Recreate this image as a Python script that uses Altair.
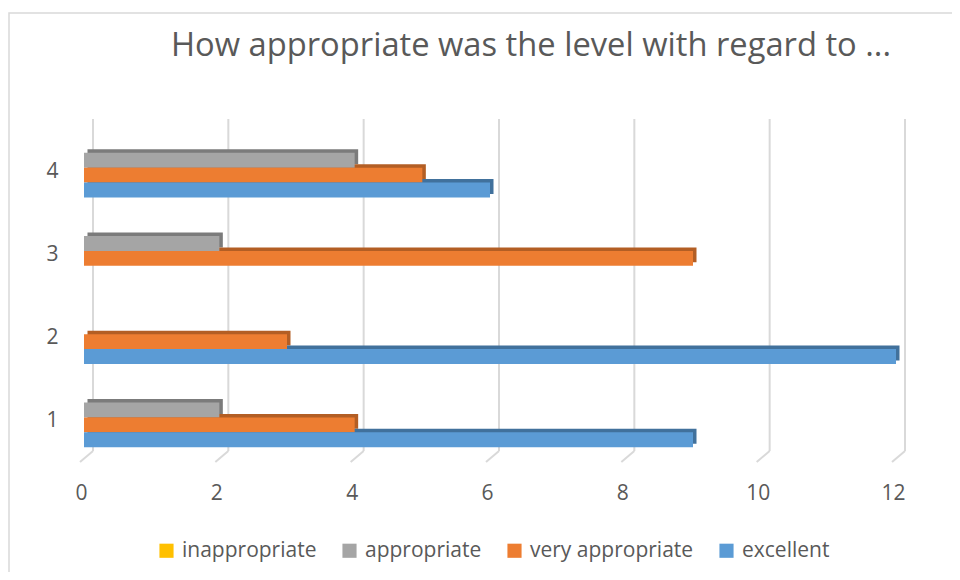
import altair as alt
import pandas as pd

categories = ["1", "2", "3", "4"]
series = ["inappropriate", "appropriate", "very appropriate", "excellent"]
inappropriate = [0, 0, 0, 0]
appropriate = [2, 0, 2, 4]
very_appropriate = [4, 3, 9, 5]
excellent = [9, 12, 0, 6]
x_ticks = [0, 2, 4, 6, 8, 10, 12]
title_text = "How appropriate was the level with regard to ..."

face_colors = ["#FFC000", "#A5A5A5", "#ED7D31", "#5B9BD5"]
side_colors = ["#BF9000", "#7B7B7B", "#B35E24", "#41719C"]
TEXT = "#595959"
FONT = "Open Sans"

rows = []
for s, vals in zip(series, [inappropriate, appropriate, very_appropriate, excellent]):
    for c, v in zip(categories, vals):
        rows.append({"category": c, "series": s, "value": v})
df = pd.DataFrame(rows)
grid_df = pd.DataFrame({"t": x_ticks})

W, H = 812, 333
BW = H / 4 * 0.72
D = 3.5

x_scale = alt.Scale(domain=[0, 12], nice=False, zero=True)
y_scale = alt.Scale(domain=categories[::-1], paddingInner=0.28, paddingOuter=0.14)

x_axis = alt.Axis(values=x_ticks, grid=False, domain=False, ticks=False,
                  labelFontSize=21, labelColor=TEXT, labelFont=FONT,
                  labelPadding=23, labelOffset=-3, labelFlush=False, title=None)
y_axis = alt.Axis(grid=False, domain=False, ticks=False, labelFontSize=21,
                  labelColor=TEXT, labelFont=FONT, labelPadding=26,
                  labelOffset=4, title=None)

border = alt.Chart(pd.DataFrame({"k": [0]})).mark_rect(
    filled=False, stroke="#d9d9d9", strokeWidth=1.5
).encode(
    x=alt.value(-75), x2=alt.value(950), y=alt.value(-113), y2=alt.value(700)
)

title = alt.Chart(pd.DataFrame({"label": [title_text]})).mark_text(
    fontSize=32.7, font=FONT, color=TEXT, align="center", baseline="middle"
).encode(
    text="label:N", x=alt.value(447), y=alt.value(-80)
)

grid_v = alt.Chart(grid_df).mark_rule(color="#d9d9d9", strokeWidth=2, xOffset=9).encode(
    x=alt.X("t:Q", scale=x_scale, axis=x_axis),
    y=alt.value(-7),
    y2=alt.value(325),
)
grid_s = alt.Chart(grid_df).mark_rule(
    color="#d9d9d9", strokeWidth=2, xOffset=9, x2Offset=-4
).encode(
    x=alt.X("t:Q", scale=x_scale, axis=x_axis),
    x2="t:Q",
    y=alt.value(325),
    y2=alt.value(336),
)

side = alt.Chart(df).mark_bar(xOffset=D, x2Offset=D).encode(
    x=alt.X("value:Q", scale=x_scale, axis=x_axis),
    y=alt.Y("category:N", scale=y_scale, axis=y_axis),
    yOffset=alt.YOffset("series:N", scale=alt.Scale(domain=series, range=[-D, BW - D])),
    color=alt.Color("series:N", scale=alt.Scale(domain=series, range=side_colors), legend=None),
)

face = alt.Chart(df).mark_bar().encode(
    x=alt.X("value:Q", scale=x_scale, axis=x_axis),
    y=alt.Y("category:N", scale=y_scale, axis=y_axis),
    yOffset=alt.YOffset("series:N", scale=alt.Scale(domain=series, range=[0, BW])),
    color=alt.Color(
        "series:N",
        scale=alt.Scale(domain=series, range=face_colors),
        legend=alt.Legend(
            orient="none", legendX=72, legendY=414, direction="horizontal",
            title=None, symbolType="square", symbolSize=200, symbolStrokeWidth=0,
            labelFontSize=21, labelColor=TEXT, labelFont=FONT, labelOffset=5,
            labelLimit=400, columnPadding=22,
        ),
    ),
)

chart = alt.layer(border, title, grid_v, grid_s, side, face).resolve_scale(
    yOffset="independent", color="independent"
).properties(
    width=W, height=H,
    background="white",
    autosize=alt.AutoSizeParams(type="none"),
    padding={"left": 76, "top": 118, "right": 56, "bottom": 113},
).configure_view(strokeWidth=0)

chart.save("out.html", embed_options={"renderer": "svg", "actions": False})
